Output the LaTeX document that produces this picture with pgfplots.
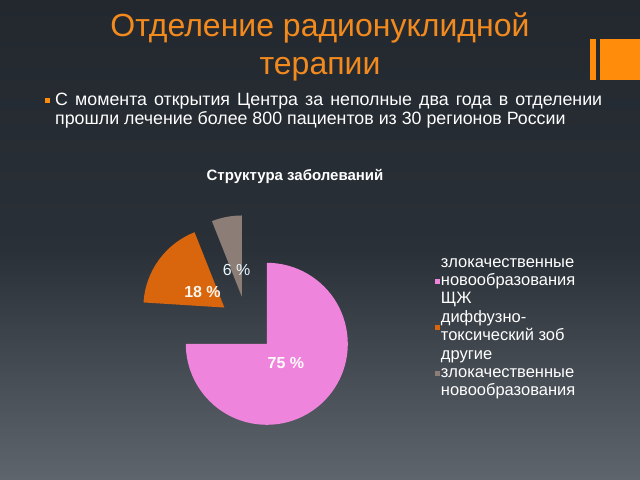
\documentclass[border=0pt]{standalone}
\usepackage{pgfplots}
\pgfplotsset{compat=1.18}
\usepackage{pgfplotstable}
\usepackage{fontspec}
\setmainfont{Liberation Sans}
\definecolor{bgtop}{HTML}{22282E}
\definecolor{bgmid}{HTML}{2A3037}
\definecolor{bgbot}{HTML}{5E656D}
\definecolor{ttl}{HTML}{F28A1E}
\definecolor{logo}{HTML}{FF8C0A}
\definecolor{piePink}{HTML}{EE84DC}
\definecolor{pieOrange}{HTML}{D9660D}
\definecolor{pieGray}{HTML}{8C7E77}

\pgfplotstableread{
name value
pink 75
orange 18
gray 6
}\piedata

\begin{document}
\begin{tikzpicture}[x=1bp,y=1bp]
\pgfplotstablegetelem{0}{value}\of\piedata\let\vA\pgfplotsretval
\pgfplotstablegetelem{1}{value}\of\piedata\let\vB\pgfplotsretval
\pgfplotstablegetelem{2}{value}\of\piedata\let\vC\pgfplotsretval
\pgfmathsetmacro\pS{90-\vA*3.6}
\pgfmathsetmacro\pM{90-\vA*1.8}
\pgfmathsetmacro\gE{90+\vC*3.6}
\pgfmathsetmacro\gM{90+\vC*1.8}
\pgfmathsetmacro\oE{\gE+\vB*3.6}
\pgfmathsetmacro\oM{\gE+\vB*1.8}
% background
\shade[top color=bgtop, bottom color=bgmid] (0,230) rectangle (640,480);
\shade[top color=bgmid, bottom color=bgbot] (0,0) rectangle (640,230.5);
% title
\node[text=ttl, font=\fontsize{32bp}{38bp}\selectfont, align=center, inner sep=0pt] at (320,433) {Отделение радионуклидной\\терапии};
% logo
\fill[logo] (590,400) rectangle (596,441);
\fill[logo] (600,400) rectangle (640,441);
% bullet text
\fill[logo] (45,377) rectangle (49.5,381.5);
\node[anchor=base west, inner sep=0pt, text=white, font=\fontsize{17.8bp}{20bp}\selectfont] at (55,374) {\makebox[547bp][s]{С момента открытия Центра за неполные два года в отделении}};
\node[anchor=base west, inner sep=0pt, text=white, font=\fontsize{17.8bp}{20bp}\selectfont] at (55,355) {прошли лечение более 800 пациентов из 30 регионов России};
% chart title
\node[anchor=base, inner sep=0pt, text=white, font=\bfseries\fontsize{15bp}{18bp}\selectfont] at (295,299) {Структура заболеваний};
\begin{axis}[at={(0,0)}, anchor=south west, scale only axis, width=640bp, height=480bp,
  xmin=0, xmax=640, ymin=0, ymax=480, hide axis, clip=false,
  legend style={at={(0.68,0.471)}, anchor=north west, draw=none, fill=none, text=white,
    font=\fontsize{16.5bp}{18bp}\selectfont, row sep=0pt, inner sep=0pt,
    nodes={inner sep=0.5bp, text depth=}},
  legend cell align=left,
  legend image code/.code={\fill[#1, draw=none] (0bp,-2.6bp) rectangle (5bp,2.6bp);}]
% slices
\fill[piePink] ([shift={(\pM:28bp)}]axis cs:247,156) -- ++(\pS:81bp) arc[start angle=\pS, end angle=90, radius=81bp] -- cycle;
\fill[pieGray] ([shift={(\gM:28bp)}]axis cs:247,156) -- ++(90:81bp) arc[start angle=90, end angle=\gE, radius=81bp] -- cycle;
\fill[pieOrange] ([shift={(\oM:28bp)}]axis cs:247,156) -- ++(\gE:81bp) arc[start angle=\gE, end angle=\oE, radius=81bp] -- cycle;
% labels
\node[font=\bfseries\fontsize{16bp}{19bp}\selectfont, text=white!95!pink] at ([shift={(\pM:55bp)}]axis cs:247,156) {\vA~\%};
\node[font=\bfseries\fontsize{16bp}{19bp}\selectfont, text=white!92!orange] at ([shift={(\oM:55bp)}]axis cs:247,156) {\vB~\%};
\node[font=\fontsize{16bp}{19bp}\selectfont, text=white!90!cyan] at ([shift={(\gM:55bp)}]axis cs:247,156) {\vC~\%};
\addlegendimage{fill=piePink}
\addlegendentry{\begin{tabular}{@{}l@{}}злокачественные\\новообразования\\ЩЖ\end{tabular}}
\addlegendimage{fill=pieOrange}
\addlegendentry{\begin{tabular}{@{}l@{}}диффузно-\\токсический зоб\end{tabular}}
\addlegendimage{fill=pieGray}
\addlegendentry{\begin{tabular}{@{}l@{}}другие\\злокачественные\\новообразования\end{tabular}}
\end{axis}
\pgfresetboundingbox
\useasboundingbox (0,0) rectangle (640,480);
\end{tikzpicture}
\end{document}
